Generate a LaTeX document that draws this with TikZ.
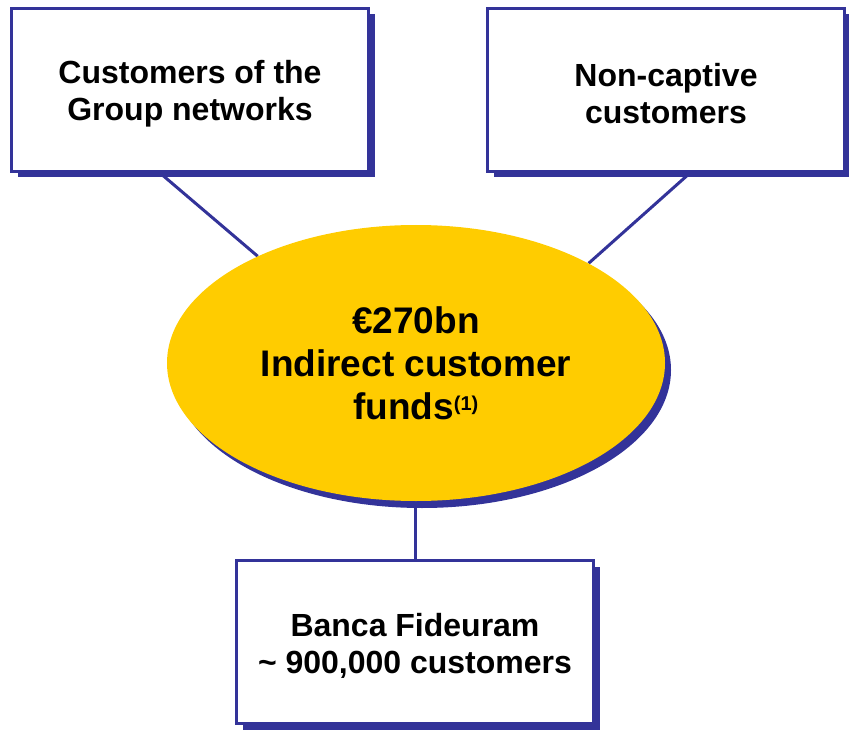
\documentclass[tikz,border=0pt]{standalone}
\usepackage{fontspec}
\setmainfont{Liberation Sans}
\usetikzlibrary{shapes.geometric,shadows,backgrounds}
\definecolor{navy}{HTML}{333399}
\definecolor{gold}{HTML}{FFCC00}
\newcommand{\toppad}{\rule{0pt}{31pt}}
\begin{document}
\begin{tikzpicture}[x=1pt,y=1pt,
  boxnode/.style={draw=navy, line width=3pt, fill=white, rectangle,
    minimum width=357pt, minimum height=163pt, align=center, inner sep=0pt,
    font=\fontsize{32}{37}\selectfont\bfseries,
    drop shadow={shadow xshift=6pt, shadow yshift=-6pt, fill=navy, opacity=1}},
  ellnode/.style={ellipse, fill=gold, minimum width=498pt, minimum height=276pt,
    inner sep=0pt, align=center, font=\fontsize{37}{43}\selectfont\bfseries,
    drop shadow={shadow xshift=6pt, shadow yshift=-7pt, fill=navy, opacity=1}},
  link/.style={draw=navy, line width=3pt}]
\useasboundingbox (0,0) rectangle (849,-730);
\node[boxnode] (b1) at (190,-90) {\toppad Customers of the\\Group networks};
\node[boxnode] (b2) at (666,-90) {\toppad Non-captive\\customers};
\node[boxnode] (b3) at (415,-642) {\toppad Banca Fideuram\\\textasciitilde{} 900,000 customers};
\node[ellnode] (el) at (416,-363) {€270bn\\Indirect customer\\funds\textsuperscript{\fontsize{20}{20}\selectfont(1)}};
\begin{scope}[on background layer]
\draw[link] ([xshift=-30pt]b1.south) -- (el.146);
\draw[link] ([xshift=24pt]b2.south) -- (el.30);
\draw[link] (el.south -| b3.north) -- (b3.north);
\end{scope}
\end{tikzpicture}
\end{document}
